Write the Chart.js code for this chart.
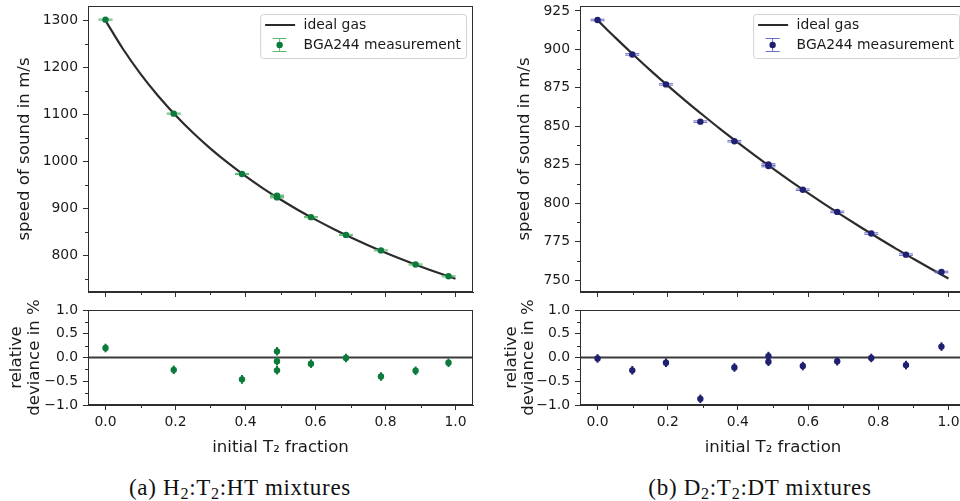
<!DOCTYPE html>
<html>
<head>
<meta charset="utf-8">
<script src="https://cdn.jsdelivr.net/npm/chart.js@4.4.0/dist/chart.umd.min.js"></script>
<style>
html, body { margin: 0; padding: 0; background: #fff; }
body { width: 960px; height: 501px; overflow: hidden; position: relative; }
canvas { position: absolute; }
.cap { position: absolute; top: 475px; width: 480px; text-align: center; white-space: nowrap;
       font-family: "Liberation Serif", serif; font-size: 23px; letter-spacing: 0.7px; color: #111; }
.cap sub { font-size: 70%; vertical-align: -0.25em; line-height: 0; }
</style>
</head>
<body>
<canvas id="mainA" width="480" height="300" style="left:0;top:0"></canvas>
<canvas id="resA" width="480" height="160" style="left:0;top:300px"></canvas>
<canvas id="mainB" width="500" height="300" style="left:480px;top:0"></canvas>
<canvas id="resB" width="500" height="160" style="left:480px;top:300px"></canvas>
<div class="cap" style="left:0">(a) H<sub>2</sub>:T<sub>2</sub>:HT mixtures</div>
<div class="cap" style="left:520px">(b) D<sub>2</sub>:T<sub>2</sub>:DT mixtures</div>
<script>
// ---- data ----
var curveX = [0, 0.05, 0.1, 0.15, 0.2, 0.25, 0.3, 0.35, 0.4, 0.45, 0.5, 0.55, 0.6, 0.65, 0.7, 0.75, 0.8, 0.85, 0.9, 0.95, 1.0];
var idealA = [1300, 1239.5, 1186.7, 1140.2, 1098.7, 1061.4, 1027.7, 997.1, 969.0, 943.1, 919.2, 897.1, 876.5, 857.2, 839.1, 822.2, 806.2, 791.2, 776.9, 763.4, 750.6];
var idealB = [919.0, 907.8, 897.0, 886.5, 876.4, 866.7, 857.3, 848.1, 839.3, 830.7, 822.4, 814.3, 806.5, 798.9, 791.5, 784.3, 777.3, 770.4, 763.8, 757.3, 751.0];

var fracA  = [0.0, 0.195, 0.39, 0.49, 0.49, 0.49, 0.587, 0.687, 0.787, 0.886, 0.98];
var speedA = [1302, 1102, 973.6, 927.5, 925.6, 923.8, 881.8, 844, 811, 781, 756];
var errA   = [1.2, 1.2, 1.2, 1.2, 1.2, 1.2, 1.2, 1.2, 1.2, 1.2, 1.2];
var residA = [0.20, -0.26, -0.46, 0.13, -0.08, -0.27, -0.13, -0.01, -0.40, -0.28, -0.11];
var rerrA  = [0.09, 0.09, 0.09, 0.09, 0.09, 0.09, 0.09, 0.09, 0.09, 0.09, 0.09];

var fracB  = [0.0, 0.099, 0.195, 0.293, 0.39, 0.487, 0.487, 0.585, 0.683, 0.78, 0.879, 0.98];
var speedB = [919.1, 896.7, 877.2, 853.0, 840.2, 825.1, 824.1, 808.7, 794.3, 780.2, 766.5, 755.2];
var errB   = [0.5, 0.5, 0.5, 0.5, 0.5, 0.5, 0.5, 0.5, 0.5, 0.5, 0.5, 0.5];
var residB = [-0.02, -0.27, -0.11, -0.87, -0.21, 0.03, -0.09, -0.18, -0.08, -0.01, -0.16, 0.23];
var rerrB  = [0.09, 0.09, 0.09, 0.09, 0.09, 0.09, 0.09, 0.09, 0.09, 0.09, 0.09, 0.09];

var xTicks = [0, 0.2, 0.4, 0.6, 0.8, 1.0];
var xMinor = [0.1, 0.3, 0.5, 0.7, 0.9];
var yTicksA = [800, 900, 1000, 1100, 1200, 1300];
var yMinorA = [750, 850, 950, 1050, 1150, 1250];
var yTicksB = [750, 775, 800, 825, 850, 875, 900, 925];
var yMinorB = [762.5, 787.5, 812.5, 837.5, 862.5, 887.5, 912.5];
var resTicks = [-1, -0.5, 0, 0.5, 1];
var resMinor = [-0.75, -0.25, 0.25, 0.75];

var labelIdeal = 'ideal gas';
var labelMeas = 'BGA244 measurement';

// ---- look ----
var FAM = '"DejaVu Sans", sans-serif';
var TICK = 13.9, LABEL = 16.6, LEG = 13.9;
var INK = '#1a1a1a', EDGE = '#2e2e2e', CURVE = '#2b2b2b';
var GREEN = '#0b7a3b', GREEN_L = '#5fb86f';
var NAVY = '#1f2170', NAVY_L = '#6b6fc4';

Chart.defaults.font.family = FAM;
Chart.defaults.color = INK;

function pts(xs, ys) { return xs.map(function(x, i) { return {x: x, y: ys[i]}; }); }
function fixed(vals) { return function(s) { s.ticks = vals.map(function(v) { return {value: v}; }); }; }
function minus(s) { return s.replace('-', '\u2212'); }

function rrect(ctx, x, y, w, h, r) {
    ctx.beginPath();
    ctx.moveTo(x + r, y);
    ctx.lineTo(x + w - r, y); ctx.arcTo(x + w, y, x + w, y + r, r);
    ctx.lineTo(x + w, y + h - r); ctx.arcTo(x + w, y + h, x + w - r, y + h, r);
    ctx.lineTo(x + r, y + h); ctx.arcTo(x, y + h, x, y + h - r, r);
    ctx.lineTo(x, y + r); ctx.arcTo(x, y, x + r, y, r);
    ctx.closePath();
}

var decor = {
    id: 'decor',
    beforeDatasetsDraw: function(chart, args, o) {
        if (!o.zero) return;
        var ctx = chart.ctx, a = chart.chartArea, y = chart.scales.y.getPixelForValue(0);
        ctx.save();
        ctx.strokeStyle = '#3a3a3a'; ctx.lineWidth = 1.8;
        ctx.beginPath(); ctx.moveTo(a.left, y); ctx.lineTo(a.right, y); ctx.stroke();
        ctx.restore();
    },
    beforeDatasetDraw: function(chart, args, o) {
        if (args.index !== 0 || !o.err) return;
        var ctx = chart.ctx, xs = chart.scales.x, ys = chart.scales.y;
        ctx.save();
        ctx.strokeStyle = o.errColor; ctx.lineWidth = o.errWidth;
        chart.data.datasets[0].data.forEach(function(p, i) {
            var px = xs.getPixelForValue(p.x);
            var y1 = ys.getPixelForValue(p.y - o.err[i]);
            var y2 = ys.getPixelForValue(p.y + o.err[i]);
            ctx.beginPath();
            ctx.moveTo(px, y1); ctx.lineTo(px, y2);
            if (o.cap) {
                ctx.moveTo(px - o.cap, y1); ctx.lineTo(px + o.cap, y1);
                ctx.moveTo(px - o.cap, y2); ctx.lineTo(px + o.cap, y2);
            }
            ctx.stroke();
        });
        ctx.restore();
    },
    afterDraw: function(chart, args, o) {
        var ctx = chart.ctx, a = chart.chartArea;
        ctx.save();
        ctx.strokeStyle = EDGE; ctx.lineWidth = 1;
        ctx.strokeRect(Math.round(a.left) + 0.5, Math.round(a.top) + 0.5,
                       Math.round(a.right - a.left) - 1, Math.round(a.bottom - a.top) - 1);
        ctx.beginPath();
        (o.minorX || []).forEach(function(v) {
            var x = Math.round(chart.scales.x.getPixelForValue(v)) + 0.5;
            ctx.moveTo(x, a.bottom); ctx.lineTo(x, a.bottom + 3);
        });
        (o.minorY || []).forEach(function(v) {
            var y = Math.round(chart.scales.y.getPixelForValue(v)) + 0.5;
            ctx.moveTo(a.left, y); ctx.lineTo(a.left - 3, y);
        });
        ctx.stroke();
        if (o.legend) {
            var ds = chart.data.datasets;
            ctx.font = LEG + 'px ' + FAM;
            var tw = Math.max(ctx.measureText(ds[1].label).width, ctx.measureText(ds[0].label).width);
            var w = 43.5 + tw + 5, h = 44;
            var right = a.right - 7, left = right - w, top = a.top + 8;
            rrect(ctx, left + 0.5, top + 0.5, w, h, 3);
            ctx.fillStyle = 'rgba(255,255,255,0.85)'; ctx.fill();
            ctx.strokeStyle = '#d2d2d2'; ctx.lineWidth = 1; ctx.stroke();
            var y1 = top + 11, y2 = top + 31, cx = left + 19.5;
            ctx.strokeStyle = CURVE; ctx.lineWidth = 2;
            ctx.beginPath(); ctx.moveTo(left + 5, y1); ctx.lineTo(left + 35, y1); ctx.stroke();
            ctx.strokeStyle = o.errColor; ctx.lineWidth = 1;
            ctx.beginPath();
            ctx.moveTo(cx, y2 - 6.5); ctx.lineTo(cx, y2 + 6.5);
            ctx.moveTo(cx - 7, y2 - 6.5); ctx.lineTo(cx + 7, y2 - 6.5);
            ctx.moveTo(cx - 7, y2 + 6.5); ctx.lineTo(cx + 7, y2 + 6.5);
            ctx.stroke();
            ctx.fillStyle = o.dark;
            ctx.beginPath(); ctx.arc(cx, y2, 3.2, 0, Math.PI * 2); ctx.fill();
            ctx.fillStyle = INK; ctx.textBaseline = 'middle'; ctx.textAlign = 'left';
            ctx.fillText(ds[1].label, left + 43.5, y1);
            ctx.fillText(ds[0].label, left + 43.5, y2);
        }
        ctx.restore();
    }
};

function xScale(showLabels, h) {
    return {
        type: 'linear', min: -0.05, max: 1.05,
        afterBuildTicks: fixed(xTicks),
        afterFit: function(s) { s.height = h; s.paddingLeft = 0; s.paddingRight = 0; },
        ticks: { display: showLabels, padding: 4, font: {size: TICK}, color: INK,
                 callback: function(v) { return minus(v.toFixed(1)); } },
        grid: { drawOnChartArea: false, tickLength: 5, color: EDGE },
        border: { display: true, color: EDGE },
        title: { display: showLabels, text: 'initial T\u2082 fraction', font: {size: LABEL}, color: INK,
                 padding: {top: 0, bottom: 2.5} }
    };
}

function yScale(p) {
    return {
        type: 'linear', min: p.min, max: p.max,
        afterBuildTicks: fixed(p.ticks),
        afterFit: function(s) { s.width = p.width; s.paddingTop = 0; s.paddingBottom = 0; },
        ticks: { padding: 5, font: {size: TICK}, color: INK,
                 callback: function(v) { return minus(p.dec ? v.toFixed(1) : String(v)); } },
        grid: { drawOnChartArea: false, tickLength: 5, color: EDGE },
        border: { display: true, color: EDGE },
        title: { display: true, text: p.title, font: {size: LABEL, lineHeight: p.lh || 1.2}, color: INK,
                 padding: {top: p.titlePad, bottom: 0} }
    };
}

function mainChart(id, p) {
    return new Chart(document.getElementById(id), {
        type: 'scatter',
        data: { datasets: [
            { label: labelMeas, data: pts(p.frac, p.speed), pointRadius: 3.2, pointBorderWidth: 0,
              pointBackgroundColor: p.dark, order: 0 },
            { label: labelIdeal, data: pts(curveX, p.ideal), showLine: true, borderColor: CURVE,
              borderWidth: 2.2, pointRadius: 0, cubicInterpolationMode: 'monotone', order: 1 }
        ]},
        options: {
            responsive: false, animation: false,
            layout: { padding: { left: 0, top: 6, right: p.padRight, bottom: 0 } },
            plugins: {
                legend: { display: false }, tooltip: { enabled: false },
                decor: { err: p.err, errColor: p.light, errWidth: 1, cap: 7, dark: p.dark, legend: true,
                         minorX: xMinor, minorY: p.yMinor }
            },
            scales: {
                x: xScale(false, 8),
                y: yScale({ min: p.min, max: p.max, ticks: p.yTicks, width: p.yWidth,
                            title: 'speed of sound in m/s', titlePad: p.titlePad })
            }
        },
        plugins: [decor]
    });
}

function resChart(id, p) {
    return new Chart(document.getElementById(id), {
        type: 'scatter',
        data: { datasets: [
            { label: labelMeas, data: pts(p.frac, p.resid), pointRadius: 3.2, pointBorderWidth: 0,
              pointBackgroundColor: p.dark }
        ]},
        options: {
            responsive: false, animation: false,
            layout: { padding: { left: 0, top: 10, right: p.padRight, bottom: 0 } },
            plugins: {
                legend: { display: false }, tooltip: { enabled: false },
                decor: { err: p.rerr, errColor: p.dark, errWidth: 2, cap: 0, zero: true,
                         minorX: xMinor, minorY: resMinor }
            },
            scales: {
                x: xScale(true, 55),
                y: yScale({ min: -1, max: 1, ticks: resTicks, width: p.yWidth, dec: true, lh: 1.05,
                            title: ['relative', 'deviance in %'], titlePad: p.titlePad })
            }
        },
        plugins: [decor]
    });
}

mainChart('mainA', { frac: fracA, speed: speedA, err: errA, ideal: idealA, dark: GREEN, light: GREEN_L,
                     min: 722.5, max: 1331, yTicks: yTicksA, yMinor: yMinorA, yWidth: 88, padRight: 7, titlePad: 15 });
resChart('resA', { frac: fracA, resid: residA, rerr: rerrA, dark: GREEN, yWidth: 88, padRight: 7, titlePad: 8.3 });
mainChart('mainB', { frac: fracB, speed: speedB, err: errB, ideal: idealB, dark: NAVY, light: NAVY_L,
                     min: 742.2, max: 928.2, yTicks: yTicksB, yMinor: yMinorB, yWidth: 100, padRight: 14, titlePad: 35 });
resChart('resB', { frac: fracB, resid: residB, rerr: rerrB, dark: NAVY, yWidth: 100, padRight: 14, titlePad: 23 });
</script>
</body>
</html>
